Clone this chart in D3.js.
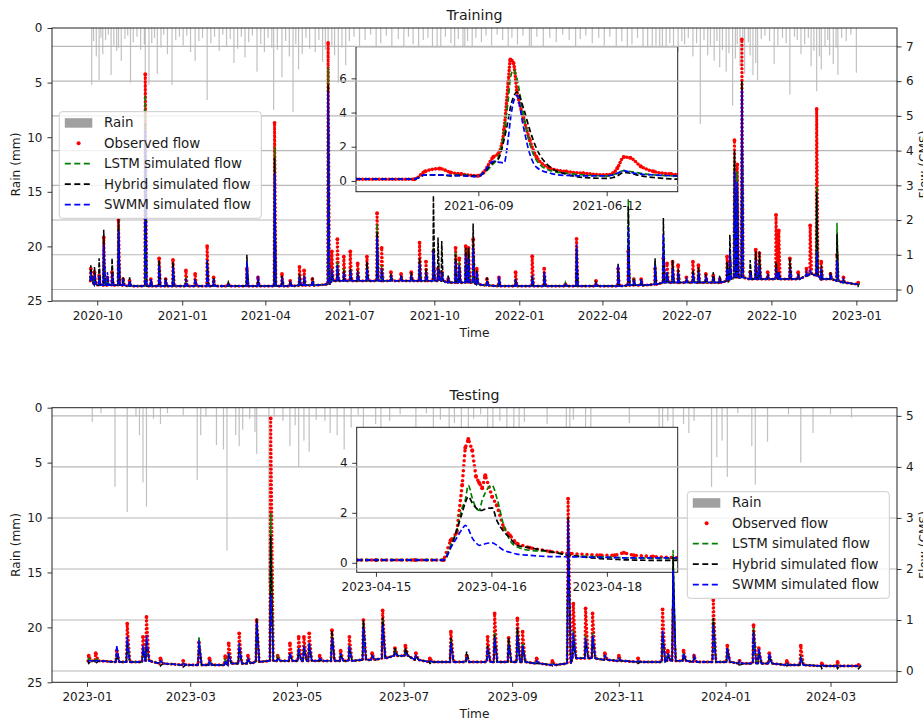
<!DOCTYPE html>
<html>
<head>
<meta charset="utf-8">
<script src="https://cdn.jsdelivr.net/npm/d3@7"></script>
<style>
  body { margin: 0; background: #fff; }
  svg text { font-family: "DejaVu Sans", sans-serif; fill: #1a1a1a; }
</style>
</head>
<body>
<div id="chart"></div>
<script>
// ---- training period: storm events (peak flow, CMS) ----
const trainDates = [
  "2020-09-24","2020-09-28","2020-10-03","2020-10-08","2020-10-12","2020-10-17","2020-10-24","2020-10-29","2020-11-05","2020-11-22",
  "2020-11-28","2020-12-07","2020-12-14","2020-12-22","2021-01-05","2021-01-15","2021-01-28","2021-02-04","2021-02-20","2021-03-12",
  "2021-03-24","2021-04-11","2021-04-19","2021-04-28","2021-05-08","2021-05-13","2021-05-22","2021-06-08","2021-06-12","2021-06-18",
  "2021-06-25","2021-07-02","2021-07-10","2021-07-20","2021-07-31","2021-08-05","2021-08-15","2021-08-26","2021-09-06","2021-09-15",
  "2021-09-22","2021-09-30","2021-10-05","2021-10-09","2021-10-16","2021-10-24","2021-10-28","2021-11-04","2021-11-07","2021-11-12",
  "2021-11-16","2021-11-27","2021-12-10","2021-12-28","2022-01-15","2022-01-28","2022-02-20","2022-03-04","2022-03-25","2022-04-18",
  "2022-04-29","2022-05-05","2022-05-13","2022-05-28","2022-06-06","2022-06-10","2022-06-16","2022-06-22","2022-07-01","2022-07-08",
  "2022-07-14","2022-07-22","2022-07-30","2022-08-06","2022-08-14","2022-08-17","2022-08-22","2022-08-25","2022-08-30","2022-09-08",
  "2022-09-14","2022-09-18","2022-09-27","2022-10-06","2022-10-09","2022-10-21","2022-10-30","2022-11-08","2022-11-12","2022-11-19",
  "2022-11-24","2022-12-04","2022-12-11","2022-12-18","2023-01-03"
];
const trainBaseflow = [
  0.25,0.15,0.12,0.12,0.12,0.12,0.12,0.12,0.1,0.1,
  0.1,0.1,0.1,0.1,0.1,0.1,0.1,0.1,0.1,0.1,
  0.1,0.1,0.1,0.1,0.12,0.12,0.12,0.15,0.25,0.25,
  0.25,0.25,0.25,0.25,0.25,0.25,0.25,0.25,0.25,0.25,
  0.25,0.25,0.25,0.25,0.2,0.2,0.2,0.2,0.2,0.2,
  0.15,0.12,0.1,0.1,0.1,0.1,0.1,0.1,0.1,0.1,
  0.12,0.12,0.12,0.15,0.2,0.2,0.2,0.2,0.2,0.2,
  0.2,0.2,0.2,0.2,0.25,0.3,0.35,0.35,0.35,0.3,
  0.3,0.3,0.3,0.3,0.3,0.3,0.3,0.4,0.45,0.4,
  0.3,0.3,0.25,0.2,0.15
];
const trainObserved = [
  0.6,0.5,0.4,1.5,0.35,0.5,2.0,0.3,0.25,6.2,
  0.3,0.9,0.3,0.85,0.55,0.45,1.25,0.35,0.15,0.6,
  0.35,4.8,0.45,0.25,0.65,0.55,0.3,7.1,1.1,1.45,
  0.95,1.1,0.75,0.95,2.2,1.2,0.5,0.45,0.5,1.35,
  0.8,1.1,0.6,0.5,0.3,1.2,0.9,1.25,1.2,1.45,
  0.6,0.3,0.35,0.5,0.96,0.6,0.15,1.46,0.25,0.6,
  1.1,0.3,0.3,0.6,0.9,0.75,0.8,0.7,0.35,0.8,
  0.7,0.45,0.4,0.3,0.95,0.8,4.3,3.6,7.2,0.5,
  1.15,1.05,0.5,2.15,1.7,0.9,0.5,0.6,1.85,5.2,
  0.8,0.45,1.0,0.35,0.2
];
const trainLstm = [
  0.45,0.4,0.35,1.2,0.3,0.4,1.8,0.25,0.2,5.6,
  0.25,0.75,0.25,0.7,0.35,0.3,0.85,0.3,0.2,0.75,
  0.3,4.1,0.35,0.2,0.4,0.4,0.25,6.4,0.6,0.8,
  0.6,0.6,0.5,0.65,1.9,0.7,0.4,0.35,0.4,0.8,
  0.55,1.2,0.5,0.45,0.3,1.1,0.8,1.2,1.15,1.3,
  0.5,0.25,0.3,0.3,0.4,0.45,0.2,1.2,0.2,0.65,
  2.6,0.35,0.25,0.8,1.5,0.5,0.6,0.5,0.3,0.5,
  0.5,0.35,0.35,0.3,0.7,1.0,3.8,3.4,6.0,0.55,
  0.9,0.8,0.4,0.6,0.5,0.7,0.4,0.45,0.5,2.95,
  0.6,0.4,1.92,0.3,0.15
];
const trainHybrid = [
  0.7,0.65,0.9,1.72,0.3,0.9,2.05,0.35,0.35,4.8,
  0.3,0.85,0.35,0.8,0.3,0.3,0.8,0.35,0.2,1.0,
  0.3,3.8,0.4,0.25,0.45,0.35,0.35,5.9,0.55,0.7,
  0.55,0.6,0.55,0.8,1.65,0.6,0.45,0.4,0.5,0.9,
  0.6,2.7,1.5,1.4,0.4,1.0,0.7,1.2,1.2,1.9,
  0.55,0.35,0.3,0.3,0.35,0.5,0.15,1.2,0.2,0.75,
  2.4,0.3,0.3,0.9,2.06,0.45,0.85,0.6,0.3,0.55,
  0.65,0.45,0.5,0.4,0.8,1.58,4.0,3.0,6.0,0.85,
  1.1,1.1,0.45,0.8,0.5,0.9,0.45,0.4,0.45,2.8,
  0.7,0.5,1.6,0.25,0.1
];
const trainSwmm = [
  0.5,0.45,0.4,1.3,0.5,0.45,1.7,0.3,0.25,4.6,
  0.3,0.7,0.3,0.65,0.3,0.3,0.85,0.3,0.15,0.8,
  0.4,3.35,0.35,0.2,0.35,0.4,0.25,5.7,0.6,0.7,
  0.5,0.55,0.5,0.6,1.5,0.6,0.35,0.35,0.4,0.75,
  0.5,1.1,0.6,0.5,0.3,0.8,0.7,1.0,0.9,1.2,
  0.5,0.25,0.38,0.3,0.4,0.5,0.15,1.3,0.2,0.7,
  1.8,0.3,0.3,0.7,1.6,0.5,0.6,0.5,0.3,0.45,
  0.5,0.4,0.35,0.3,0.6,1.1,3.4,3.1,5.75,0.5,
  0.85,0.7,0.4,0.6,0.5,0.6,0.4,0.5,0.55,1.1,
  0.6,0.45,0.85,0.3,0.15
];

// ---- training period: rain bars (mm) ----
const trainRain = [
  ["2020-09-25",5.2],["2020-09-27",1.2],["2020-09-30",2.6],["2020-10-03",4.8],["2020-10-05",0.9],["2020-10-07",2.4],["2020-10-10",1.1],["2020-10-13",0.6],["2020-10-16",4.3],["2020-10-19",1.6],
  ["2020-10-22",2.1],["2020-10-24",1.8],["2020-10-27",3.0],["2020-10-31",1.0],["2020-11-03",0.7],["2020-11-06",5.0],["2020-11-09",1.3],["2020-11-13",0.8],["2020-11-17",2.0],["2020-11-21",1.5],
  ["2020-11-22",6.6],["2020-11-26",5.2],["2020-11-29",1.4],["2020-12-02",0.9],["2020-12-05",4.2],["2020-12-09",1.8],["2020-12-12",0.6],["2020-12-16",2.4],["2020-12-21",5.2],["2020-12-25",1.1],
  ["2020-12-29",0.8],["2021-01-02",1.6],["2021-01-06",0.7],["2021-01-10",2.2],["2021-01-15",3.0],["2021-01-19",1.2],["2021-01-23",0.9],["2021-01-28",6.6],["2021-02-01",1.4],["2021-02-05",0.8],
  ["2021-02-10",2.1],["2021-02-14",0.6],["2021-02-18",1.7],["2021-02-22",1.0],["2021-02-26",3.2],["2021-03-02",1.9],["2021-03-06",0.8],["2021-03-10",2.7],["2021-03-14",1.3],["2021-03-18",0.7],
  ["2021-03-23",4.0],["2021-03-27",1.5],["2021-03-31",2.2],["2021-04-04",0.9],["2021-04-08",1.8],["2021-04-10",7.5],["2021-04-14",2.0],["2021-04-19",4.5],["2021-04-23",1.2],["2021-04-27",2.6],
  ["2021-05-01",7.7],["2021-05-04",1.5],["2021-05-07",3.8],["2021-05-11",2.4],["2021-05-15",0.9],["2021-05-19",1.9],["2021-05-25",2.2],["2021-05-29",1.1],["2021-06-02",3.1],["2021-06-05",2.0],
  ["2021-06-08",17.0],["2021-06-12",1.6],["2021-06-15",2.5],["2021-06-19",5.0],["2021-06-23",1.8],["2021-06-27",3.4],["2021-07-01",1.2],["2021-07-06",0.8],["2021-07-12",2.0],["2021-07-18",1.1],
  ["2021-07-24",0.6],["2021-07-30",2.6],["2021-08-04",1.4],["2021-08-10",0.7],["2021-08-16",1.9],["2021-08-23",1.0],["2021-08-29",2.3],["2021-09-03",0.8],["2021-09-08",1.5],["2021-09-14",2.8],
  ["2021-09-19",1.1],["2021-09-24",0.9],["2021-09-29",3.0],["2021-10-04",1.7],["2021-10-08",2.2],["2021-10-13",0.8],["2021-10-19",1.4],["2021-10-23",2.5],["2021-10-27",1.0],["2021-11-01",1.8],
  ["2021-11-03",2.9],["2021-11-06",1.2],["2021-11-11",3.2],["2021-11-15",0.9],["2021-11-21",1.3],["2021-11-26",0.7],["2021-12-02",1.6],["2021-12-08",0.6],["2021-12-14",1.1],["2021-12-20",2.4],
  ["2021-12-24",0.9],["2021-12-30",1.5],["2022-01-05",0.7],["2022-01-12",1.9],["2022-01-14",2.6],["2022-01-20",0.8],["2022-01-27",1.7],["2022-02-03",0.9],["2022-02-10",1.3],["2022-02-17",0.6],
  ["2022-02-24",1.1],["2022-03-03",2.7],["2022-03-08",1.0],["2022-03-14",0.7],["2022-03-21",1.4],["2022-03-28",0.9],["2022-04-03",1.6],["2022-04-09",0.8],["2022-04-16",2.2],["2022-04-22",1.2],
  ["2022-04-28",3.1],["2022-05-03",1.5],["2022-05-09",0.9],["2022-05-15",1.8],["2022-05-20",2.4],["2022-05-25",2.9],["2022-05-29",1.6],["2022-06-02",2.8],["2022-06-05",3.3],["2022-06-09",2.2],
  ["2022-06-13",1.4],["2022-06-17",2.6],["2022-06-22",2.2],["2022-06-26",1.2],["2022-06-29",1.5],["2022-07-03",0.9],["2022-07-08",2.6],["2022-07-12",1.4],["2022-07-16",8.8],["2022-07-20",1.1],
  ["2022-07-24",2.5],["2022-07-27",1.6],["2022-07-31",3.0],["2022-08-03",1.2],["2022-08-06",3.6],["2022-08-09",2.0],["2022-08-13",4.0],["2022-08-16",2.3],["2022-08-20",7.1],["2022-08-23",2.8],
  ["2022-08-25",1.5],["2022-08-28",3.5],["2022-08-31",1.9],["2022-09-02",4.2],["2022-09-06",1.3],["2022-09-08",2.5],["2022-09-11",4.3],["2022-09-14",3.2],["2022-09-16",4.8],["2022-09-20",1.0],
  ["2022-09-24",0.7],["2022-09-29",1.2],["2022-10-04",3.3],["2022-10-08",1.6],["2022-10-13",0.9],["2022-10-17",1.4],["2022-10-21",6.1],["2022-10-26",0.8],["2022-10-29",1.1],["2022-11-02",2.4],
  ["2022-11-06",1.5],["2022-11-10",0.9],["2022-11-13",3.5],["2022-11-16",2.1],["2022-11-19",5.8],["2022-11-22",2.6],["2022-11-24",3.8],["2022-11-28",1.7],["2022-12-01",1.1],["2022-12-03",2.5],
  ["2022-12-07",3.3],["2022-12-10",1.8],["2022-12-12",4.3],["2022-12-16",0.9],["2022-12-21",1.2],["2022-12-26",0.6],["2023-01-01",4.1]
];

// ---- training zoom: June 2021 storm (days after 2021-06-09) ----
const trainZoomDay = [-2.86,-1.5,-1.25,-0.9,-0.65,-0.4,0,0.12,0.35,0.47,0.6,0.7,0.75,0.82,0.9,1.05,1.2,1.36,1.68,2.05,2.45,3.0,3.15,3.25,3.4,3.55,3.8,4.1,4.5,4.66];
const trainZoomObs = [0.1,0.1,0.55,0.72,0.5,0.4,0.3,0.5,1.4,1.6,3.0,5.8,7.1,6.9,5.3,3.75,2.4,1.4,0.74,0.55,0.45,0.35,0.45,0.75,1.4,1.35,0.85,0.55,0.4,0.35];
const trainZoomLstm = [0.1,0.1,0.35,0.35,0.32,0.35,0.3,0.45,1.0,1.4,2.8,4.8,6.0,6.5,6.0,3.9,2.2,1.2,0.6,0.45,0.35,0.3,0.35,0.45,0.6,0.55,0.45,0.35,0.3,0.28];
const trainZoomHybrid = [0.1,0.1,0.35,0.35,0.3,0.32,0.28,0.45,1.1,1.3,2.4,3.6,4.3,4.9,5.2,4.3,3.0,1.9,0.8,0.4,0.2,0.15,0.2,0.3,0.5,0.45,0.3,0.2,0.12,0.1];
const trainZoomSwmm = [0.1,0.1,0.35,0.35,0.32,0.3,0.25,0.5,1.15,1.1,1.05,2.5,3.6,4.6,5.0,3.2,1.6,0.8,0.45,0.32,0.3,0.3,0.35,0.45,0.6,0.5,0.4,0.35,0.3,0.28];

// ---- testing period: storm events ----
const testDates = [
  "2023-01-02","2023-01-06","2023-01-18","2023-01-24","2023-02-02","2023-02-04","2023-02-12","2023-02-25","2023-03-06","2023-03-12",
  "2023-03-21","2023-03-23","2023-03-29","2023-04-03","2023-04-08","2023-04-16","2023-04-20","2023-04-27","2023-05-02","2023-05-05",
  "2023-05-08","2023-05-14","2023-05-21","2023-05-26","2023-05-31","2023-06-08","2023-06-13","2023-06-19","2023-06-26","2023-07-02",
  "2023-07-08","2023-07-16","2023-07-28","2023-08-06","2023-08-18","2023-08-22","2023-08-30","2023-09-04","2023-09-07","2023-09-15",
  "2023-09-24","2023-10-03","2023-10-06","2023-10-13","2023-10-17","2023-10-24","2023-11-01","2023-11-12","2023-11-26","2023-11-29",
  "2023-12-02","2023-12-08","2023-12-14","2023-12-25","2024-01-02","2024-01-09","2024-01-17","2024-01-20","2024-01-26","2024-02-05",
  "2024-02-13","2024-02-25","2024-03-05","2024-03-17"
];
const testBaseflow = [
  0.2,0.2,0.18,0.18,0.18,0.2,0.15,0.12,0.12,0.12,
  0.12,0.15,0.15,0.15,0.18,0.2,0.2,0.2,0.2,0.2,
  0.2,0.2,0.2,0.2,0.2,0.22,0.22,0.25,0.3,0.3,
  0.22,0.18,0.18,0.18,0.18,0.18,0.18,0.18,0.18,0.15,
  0.12,0.15,0.25,0.25,0.25,0.22,0.2,0.18,0.18,0.2,
  0.2,0.2,0.18,0.18,0.18,0.15,0.15,0.15,0.15,0.12,
  0.12,0.1,0.1,0.1
];
const testObserved = [
  0.3,0.35,0.4,0.93,0.67,1.06,0.25,0.2,0.56,0.25,
  0.29,0.54,0.74,0.3,1.0,4.95,0.3,0.54,0.67,0.67,
  0.74,0.3,0.8,0.4,0.67,1.0,0.35,1.19,0.45,0.5,
  0.35,0.25,0.77,0.3,0.67,1.13,0.65,1.03,0.77,0.25,
  0.2,3.38,1.32,1.23,1.13,0.35,0.3,0.25,1.21,0.4,
  1.2,0.4,0.3,1.39,0.5,0.2,0.9,0.45,0.35,0.2,
  0.5,0.15,0.18,0.12
];
const testLstm = [
  0.25,0.25,0.35,0.6,0.45,0.6,0.2,0.15,0.67,0.2,
  0.22,0.35,0.5,0.25,0.9,3.1,0.3,0.35,0.45,0.5,
  0.55,0.25,0.7,0.35,0.5,0.95,0.3,1.0,0.4,0.4,
  0.3,0.2,0.6,0.25,0.45,0.75,0.55,0.8,0.55,0.2,
  0.15,2.9,0.8,0.7,0.75,0.3,0.25,0.2,0.7,0.35,
  2.37,0.35,0.25,1.0,0.45,0.15,0.85,0.4,0.3,0.15,
  0.3,0.12,0.12,0.1
];
const testHybrid = [
  0.15,0.15,0.3,0.55,0.4,0.55,0.1,0.08,0.5,0.1,
  0.15,0.3,0.45,0.2,1.03,2.65,0.25,0.3,0.4,0.45,
  0.5,0.2,0.8,0.3,0.45,1.0,0.3,1.05,0.45,0.45,
  0.3,0.15,0.65,0.38,0.5,0.7,0.65,0.85,0.5,0.15,
  0.1,3.02,0.6,0.6,0.65,0.25,0.2,0.15,0.75,0.3,
  2.24,0.3,0.25,1.04,0.45,0.1,0.8,0.4,0.3,0.1,
  0.25,0.05,0.05,0.05
];
const testSwmm = [
  0.2,0.2,0.5,0.67,0.5,0.7,0.2,0.15,0.6,0.2,
  0.2,0.35,0.55,0.25,0.95,1.5,0.25,0.35,0.45,0.5,
  0.55,0.25,0.65,0.35,0.5,0.85,0.3,0.9,0.35,0.35,
  0.3,0.2,0.55,0.25,0.45,0.65,0.5,0.7,0.5,0.2,
  0.15,2.95,0.75,0.65,0.7,0.3,0.25,0.2,0.8,0.35,
  1.98,0.35,0.3,0.9,0.45,0.2,0.75,0.45,0.35,0.15,
  0.25,0.12,0.1,0.1
];
const testRain = [
  ["2023-01-04",1.3],["2023-01-09",0.5],["2023-01-17",7.2],["2023-01-24",9.5],["2023-01-29",0.8],["2023-01-31",2.5],["2023-02-02",6.8],["2023-02-04",9.0],["2023-02-08",1.0],["2023-02-12",1.5],
  ["2023-02-16",0.5],["2023-02-25",0.7],["2023-03-05",6.6],["2023-03-07",2.5],["2023-03-10",0.8],["2023-03-16",3.4],["2023-03-20",3.8],["2023-03-22",13.0],["2023-03-27",2.5],["2023-03-29",3.5],
  ["2023-03-31",2.0],["2023-04-04",1.0],["2023-04-07",2.2],["2023-04-08",4.2],["2023-04-15",16.0],["2023-04-18",0.8],["2023-04-23",1.2],["2023-04-27",3.5],["2023-04-30",1.6],["2023-05-02",5.4],
  ["2023-05-05",3.0],["2023-05-08",4.0],["2023-05-12",1.1],["2023-05-17",1.2],["2023-05-20",2.3],["2023-05-24",2.5],["2023-05-28",3.8],["2023-06-01",1.8],["2023-06-05",0.7],["2023-06-08",1.8],
  ["2023-06-15",1.5],["2023-06-18",2.0],["2023-06-23",1.2],["2023-06-29",0.6],["2023-07-08",2.0],["2023-07-14",0.5],["2023-07-18",1.9],["2023-07-22",1.1],["2023-07-27",2.2],["2023-07-30",1.4],
  ["2023-08-03",1.8],["2023-08-07",2.6],["2023-08-10",1.0],["2023-08-14",0.6],["2023-08-18",1.9],["2023-08-21",2.5],["2023-08-25",1.2],["2023-08-29",2.4],["2023-09-02",2.0],["2023-09-05",2.6],
  ["2023-09-08",1.3],["2023-09-21",1.5],["2023-10-02",2.6],["2023-10-04",2.2],["2023-10-06",1.1],["2023-10-13",2.3],["2023-10-16",1.9],["2023-11-07",1.4],["2023-11-24",2.3],["2023-11-26",2.8],
  ["2023-11-29",1.2],["2023-12-02",2.5],["2023-12-08",1.5],["2023-12-11",2.3],["2023-12-14",1.2],["2023-12-24",7.2],["2023-12-27",4.5],["2023-12-30",3.0],["2024-01-02",6.3],["2024-01-08",0.5],
  ["2024-01-16",3.5],["2024-01-18",7.0],["2024-01-25",3.1],["2024-02-06",0.6],["2024-02-13",5.0],["2024-02-20",2.3],["2024-03-01",0.6],["2024-03-13",0.9]
];

// ---- testing zoom: April 2023 storm (days after 2023-04-15) ----
const testZoomDay = [-0.25,0,0.5,0.88,0.97,1.05,1.12,1.16,1.2,1.25,1.3,1.34,1.38,1.42,1.51,1.57,1.66,1.74,1.83,2.0,2.26,2.52,2.91,3.1,3.22,3.35,3.6,3.92];
const testZoomObs = [0.11,0.11,0.11,0.11,0.9,1.2,3.11,4.6,4.95,4.5,3.44,3.2,2.98,3.5,2.64,2.3,1.4,1.1,0.77,0.6,0.45,0.37,0.3,0.3,0.4,0.3,0.25,0.2];
const testZoomLstm = [0.13,0.13,0.13,0.13,0.7,1.3,2.2,2.5,3.1,2.6,2.2,2.1,2.5,2.8,3.1,2.6,1.5,0.9,0.64,0.5,0.45,0.3,0.24,0.22,0.2,0.19,0.18,0.17];
const testZoomHybrid = [0.1,0.1,0.1,0.1,0.6,1.3,2.0,2.4,2.64,2.4,2.2,2.1,2.1,2.15,2.2,1.7,1.25,1.0,0.7,0.6,0.45,0.3,0.17,0.14,0.12,0.11,0.1,0.1];
const testZoomSwmm = [0.12,0.12,0.12,0.12,0.6,1.0,1.35,1.5,1.35,1.0,0.8,0.7,0.72,0.76,0.8,0.7,0.5,0.42,0.35,0.3,0.25,0.24,0.22,0.21,0.2,0.2,0.2,0.2];

const rainTicks = [0, 5, 10, 15, 20, 25];
const legendLabels = ["Rain", "Observed flow", "LSTM simulated flow", "Hybrid simulated flow", "SWMM simulated flow"];

const colours = {rain: "#a0a0a0", obs: "#ff0000", lstm: "#008000", hybrid: "#000000", swmm: "#0000ff"};
const parseDay = d3.utcParse("%Y-%m-%d");

const svg = d3.select("#chart").append("svg")
    .attr("width", 923)
    .attr("height", 723)
    .style("background", "#fff");

// each event is drawn as a narrow hydrograph: baseflow -> peak -> baseflow
function spikes(dates, base, peaks) {
    let pts = [];
    dates.forEach((d, i) => {
	let t = parseDay(d);
	pts.push([d3.utcHour.offset(t, -12), base[i]]);
	pts.push([t, peaks[i]]);
	pts.push([d3.utcHour.offset(t, 36), base[i]]);
    });
    return pts;
}

function styleAxis(g, size) {
    g.select(".domain").remove();
    g.selectAll(".tick line").attr("stroke", "#222").attr("stroke-width", 0.9);
    g.selectAll(".tick text").attr("font-size", size || 12).attr("fill", "#222");
}

function drawInset(g, ins) {
    let ref = parseDay(ins.ref);
    let toTime = day => new Date(ref.getTime() + day * 864e5);
    let x = d3.scaleUtc().domain(ins.dayDomain.map(toTime)).range([ins.x0, ins.x1]);
    let y = d3.scaleLinear().domain(ins.yDomain).range([ins.y1, ins.y0]);

    g.append("rect")
	.attr("x", ins.x0).attr("y", ins.y0)
	.attr("width", ins.x1 - ins.x0).attr("height", ins.y1 - ins.y0)
	.attr("fill", "#fff");

    let clipId = "clip-inset-" + ins.name;
    g.append("clipPath").attr("id", clipId).append("rect")
	.attr("x", ins.x0).attr("y", ins.y0)
	.attr("width", ins.x1 - ins.x0).attr("height", ins.y1 - ins.y0);

    let plot = g.append("g").attr("clip-path", `url(#${clipId})`);
    let rows = vals => ins.days.map((d, i) => [toTime(d), vals[i]]);
    let line = d3.line().x(d => x(d[0])).y(d => y(d[1])).curve(d3.curveMonotoneX);
    let obsLine = d3.line().x(d => x(d[0])).y(d => y(d[1])).curve(ins.obsCurve);

    plot.append("path")
	.attr("d", obsLine(rows(ins.obs)))
	.attr("fill", "none")
	.attr("stroke", colours.obs)
	.attr("stroke-width", 3.6)
	.attr("stroke-linecap", "round")
	.attr("stroke-dasharray", ins.obsDash);
    plot.selectAll("circle")
	.data(rows(ins.obs))
	.join("circle")
	.attr("cx", d => x(d[0]))
	.attr("cy", d => y(d[1]))
	.attr("r", 2)
	.attr("fill", colours.obs);

    [["lstm", ins.lstm], ["hybrid", ins.hybrid], ["swmm", ins.swmm]].forEach(s => {
	plot.append("path")
	    .attr("d", line(rows(s[1])))
	    .attr("fill", "none")
	    .attr("stroke", colours[s[0]])
	    .attr("stroke-width", 1.7)
	    .attr("stroke-dasharray", "5.5 2.8");
    });

    g.append("rect")
	.attr("x", ins.x0).attr("y", ins.y0)
	.attr("width", ins.x1 - ins.x0).attr("height", ins.y1 - ins.y0)
	.attr("fill", "none").attr("stroke", "#222").attr("stroke-width", 1);

    g.append("g")
	.attr("transform", `translate(${ins.x0},0)`)
	.call(d3.axisLeft(y).tickValues(ins.yTicks).tickFormat(d3.format("d")).tickSize(4.5).tickPadding(4.5))
	.call(styleAxis);
    g.append("g")
	.attr("transform", `translate(0,${ins.y1})`)
	.call(d3.axisBottom(x).tickValues(ins.xTicks.map(toTime))
	      .tickFormat(d3.utcFormat("%Y-%m-%d")).tickSize(4.5).tickPadding(5.5))
	.call(styleAxis);
}

function drawLegend(g, lg) {
    let box = g.append("g").attr("transform", `translate(${lg.x},${lg.y})`);
    box.append("rect")
	.attr("width", 202).attr("height", 106.6).attr("rx", 3)
	.attr("fill", "#fff").attr("fill-opacity", 0.8)
	.attr("stroke", "#cccccc").attr("stroke-width", 1);
    let rowY = i => 11 + i * 20.5;
    box.append("rect")
	.attr("x", 5.5).attr("y", rowY(0) - 4.5).attr("width", 27.5).attr("height", 9.5)
	.attr("fill", colours.rain);
    box.append("circle")
	.attr("cx", 19.3).attr("cy", rowY(1)).attr("r", 2)
	.attr("fill", colours.obs);
    ["lstm", "hybrid", "swmm"].forEach((k, j) => {
	box.append("line")
	    .attr("x1", 5.5).attr("x2", 33)
	    .attr("y1", rowY(j + 2)).attr("y2", rowY(j + 2))
	    .attr("stroke", colours[k]).attr("stroke-width", 1.7)
	    .attr("stroke-dasharray", "6 3.5");
    });
    box.selectAll("text")
	.data(legendLabels)
	.join("text")
	.attr("x", 44.7)
	.attr("y", (d, i) => rowY(i))
	.attr("dy", "0.35em")
	.attr("font-size", 13.4)
	.text(d => d);
}

function drawPanel(p) {
    let x = d3.scaleUtc().domain(p.xDomain.map(parseDay)).range([p.left, p.right]);
    let yRain = d3.scaleLinear().domain([0, 25]).range([p.top, p.bottom]);
    let yFlow = d3.scaleLinear().domain(p.flowDomain).range([p.bottom, p.top]);
    let g = svg.append("g").attr("class", "panel-" + p.name);

    let clipId = "clip-" + p.name;
    g.append("clipPath").attr("id", clipId).append("rect")
	.attr("x", p.left).attr("y", p.top)
	.attr("width", p.right - p.left).attr("height", p.bottom - p.top);

    // rain hangs from the top of the axes
    g.append("g")
	.attr("clip-path", `url(#${clipId})`)
	.selectAll("rect")
	.data(p.rain)
	.join("rect")
	.attr("x", d => x(parseDay(d[0])) - 0.6)
	.attr("y", yRain(0))
	.attr("width", 1.2)
	.attr("height", d => yRain(d[1]) - yRain(0))
	.attr("fill", colours.rain)
	.attr("opacity", 0.65);

    g.append("g")
	.attr("transform", `translate(${p.left},0)`)
	.call(d3.axisLeft(yRain).tickValues(rainTicks).tickSize(4.5).tickPadding(5))
	.call(styleAxis);

    drawInset(g, p.inset);

    // flow grid sits above the inset
    g.append("g")
	.selectAll("line")
	.data(p.flowTicks)
	.join("line")
	.attr("x1", p.left).attr("x2", p.right)
	.attr("y1", d => yFlow(d)).attr("y2", d => yFlow(d))
	.attr("stroke", "#b8b8b8").attr("stroke-width", 1.1);

    let line = d3.line().x(d => x(d[0])).y(d => yFlow(d[1]));
    let plot = g.append("g").attr("clip-path", `url(#${clipId})`);

    let obsPts = spikes(p.dates, p.base, p.obs);
    plot.append("path")
	.attr("d", line(obsPts))
	.attr("fill", "none")
	.attr("stroke", colours.obs)
	.attr("stroke-width", 3.2)
	.attr("stroke-linecap", "round")
	.attr("stroke-dasharray", "0 3.9");
    plot.append("g")
	.selectAll("circle")
	.data(p.dates.map((d, i) => [parseDay(d), p.obs[i]]))
	.join("circle")
	.attr("cx", d => x(d[0]))
	.attr("cy", d => yFlow(d[1]))
	.attr("r", 1.9)
	.attr("fill", colours.obs);

    [["lstm", p.lstm], ["hybrid", p.hybrid], ["swmm", p.swmm]].forEach(s => {
	plot.append("path")
	    .attr("d", line(spikes(p.dates, p.base, s[1])))
	    .attr("fill", "none")
	    .attr("stroke", colours[s[0]])
	    .attr("stroke-width", 1.5)
	    .attr("stroke-dasharray", "5 1.5");
    });

    g.append("rect")
	.attr("x", p.left).attr("y", p.top)
	.attr("width", p.right - p.left).attr("height", p.bottom - p.top)
	.attr("fill", "none").attr("stroke", "#222").attr("stroke-width", 1);

    g.append("g")
	.attr("transform", `translate(${p.right},0)`)
	.call(d3.axisRight(yFlow).tickValues(p.flowTicks).tickFormat(d3.format("d")).tickSize(4.5).tickPadding(4.5))
	.call(styleAxis);
    g.append("g")
	.attr("transform", `translate(0,${p.bottom})`)
	.call(d3.axisBottom(x).ticks(d3.utcMonth.every(p.monthStep))
	      .tickFormat(d3.utcFormat("%Y-%m")).tickSize(4.5).tickPadding(5.5))
	.call(styleAxis);

    drawLegend(g, p.legend);

    let midX = (p.left + p.right) / 2, midY = (p.top + p.bottom) / 2;
    g.append("text")
	.attr("x", midX).attr("y", p.top - 8)
	.attr("text-anchor", "middle").attr("font-size", 14.2)
	.text(p.title);
    g.append("text")
	.attr("x", midX).attr("y", p.bottom + 36)
	.attr("text-anchor", "middle").attr("font-size", 12.2)
	.text("Time");
    g.append("text")
	.attr("transform", `translate(20,${midY}) rotate(-90)`)
	.attr("text-anchor", "middle").attr("font-size", 12.2)
	.text("Rain (mm)");
    // the right-hand label runs off the page edge, as in the source figure
    g.append("text")
	.attr("transform", `translate(928,${midY}) rotate(-90)`)
	.attr("text-anchor", "middle").attr("font-size", 12.2)
	.text("Flow (CMS)");
}

drawPanel({
    name: "train", title: "Training",
    left: 52, right: 897, top: 28, bottom: 301,
    xDomain: ["2020-08-13", "2023-02-14"], monthStep: 3,
    flowDomain: [-0.33, 7.53], flowTicks: [0, 1, 2, 3, 4, 5, 6, 7],
    dates: trainDates, base: trainBaseflow, obs: trainObserved,
    lstm: trainLstm, hybrid: trainHybrid, swmm: trainSwmm, rain: trainRain,
    legend: {x: 59.3, y: 111.7},
    inset: {
	name: "train", x0: 356, x1: 677.7, y0: 46.7, y1: 191.7,
	ref: "2021-06-09", dayDomain: [-2.86, 4.66], yDomain: [-0.63, 7.85],
	yTicks: [0, 2, 4, 6], xTicks: [0, 3],
	obsCurve: d3.curveMonotoneX, obsDash: "0 3.3",
	days: trainZoomDay, obs: trainZoomObs, lstm: trainZoomLstm, hybrid: trainZoomHybrid, swmm: trainZoomSwmm
    }
});

drawPanel({
    name: "test", title: "Testing",
    left: 52, right: 897, top: 407.7, bottom: 682.3,
    xDomain: ["2022-12-12", "2024-04-08"], monthStep: 2,
    flowDomain: [-0.22, 5.16], flowTicks: [0, 1, 2, 3, 4, 5],
    dates: testDates, base: testBaseflow, obs: testObserved,
    lstm: testLstm, hybrid: testHybrid, swmm: testSwmm, rain: testRain,
    legend: {x: 687.3, y: 491.7},
    inset: {
	name: "test", x0: 356.7, x1: 677.7, y0: 427.3, y1: 572.3,
	ref: "2023-04-15", dayDomain: [-0.25, 3.92], yDomain: [-0.38, 5.42],
	yTicks: [0, 2, 4], xTicks: [0, 1.5, 3],
	obsCurve: d3.curveLinear, obsDash: "0 5",
	days: testZoomDay, obs: testZoomObs, lstm: testZoomLstm, hybrid: testZoomHybrid, swmm: testZoomSwmm
    }
});
</script>
</body>
</html>
